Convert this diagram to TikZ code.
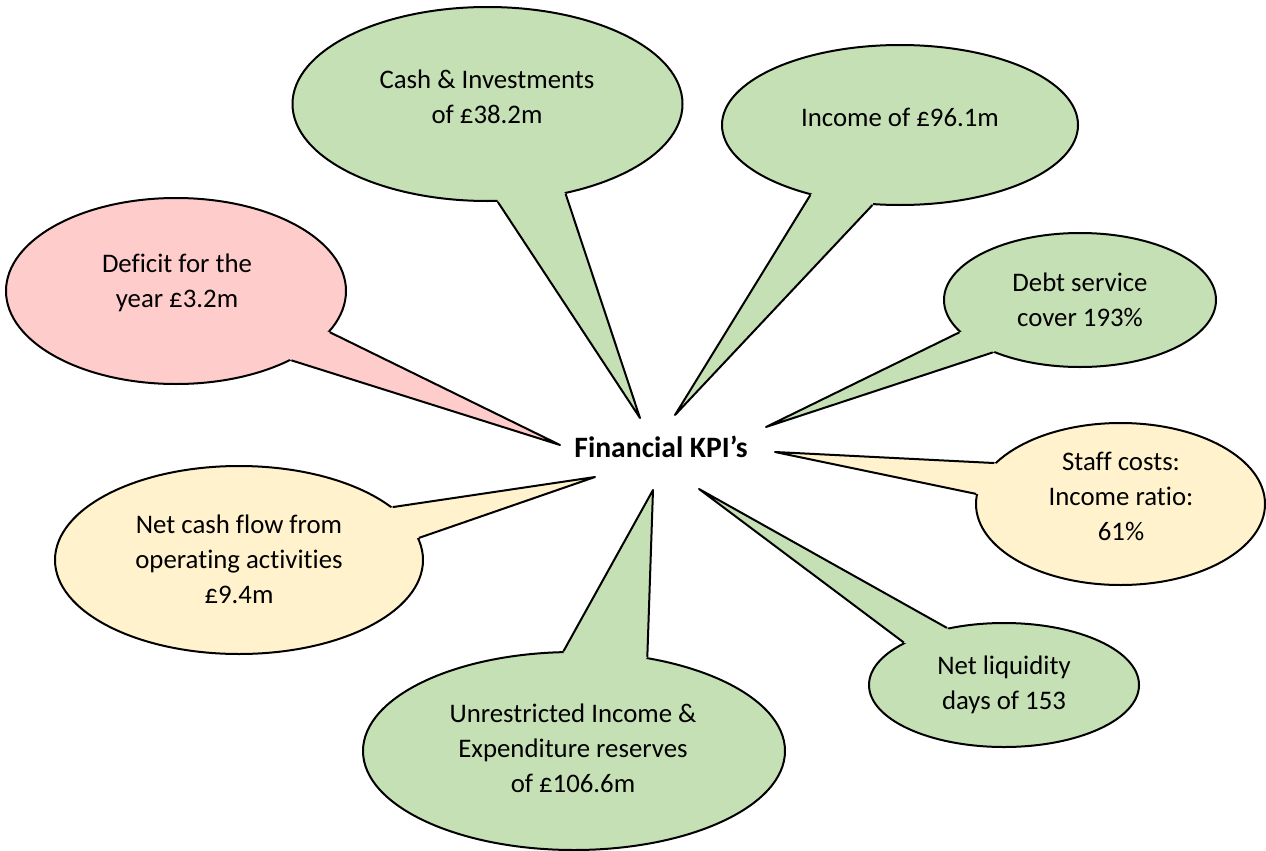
\documentclass[tikz,border=0pt]{standalone}
\usepackage{fontspec}
\setmainfont{Carlito}[Ligatures={NoCommon}]
\usetikzlibrary{shapes.geometric}
\definecolor{kgreen}{HTML}{C5E0B4}
\definecolor{kpink}{HTML}{FFCCCC}
\definecolor{kyellow}{HTML}{FFF2CC}
\tikzset{
  bubble/.style={ellipse, draw=black, line width=2pt, inner sep=0pt},
  btext/.style={align=center, font=\fontsize{26.8}{35}\selectfont, inner sep=0pt},
  side/.style={draw=black, line width=2pt, line join=round},
}
% \kcallout{name}{center}{width}{height}{angleA}{angleB}{tip}{colour}
\newcommand{\kcallout}[8]{%
  \node[bubble, fill=#8, minimum width=#3, minimum height=#4] (#1) at (#2) {};
  \coordinate (#1tip) at (#7);
  \fill[#8] (#1.#5) -- (#1tip) -- (#1.#6) -- (#1.center) -- cycle;
  \draw[side] (#1.#5) -- (#1tip) -- (#1.#6);
}
\begin{document}
\begin{tikzpicture}[x=1pt,y=-1pt]
\useasboundingbox (0,0) rectangle (1266,851);
\kcallout{cash}{487.5,104}{390pt}{194pt}{276.1}{311.8}{640,418}{kgreen}
\kcallout{income}{900,125}{356pt}{160pt}{218.1}{251.4}{675,415}{kgreen}
\kcallout{deficit}{176,291}{340pt}{186pt}{345.4}{329.1}{560,445}{kpink}
\kcallout{debt}{1080,300}{272pt}{134pt}{195.6}{211.4}{766,427}{kgreen}
\kcallout{staff}{1120.5,504}{289pt}{162pt}{162.2}{176.1}{775,452}{kyellow}
\kcallout{netcash}{239,560}{368pt}{188pt}{19.9}{7.3}{595,477}{kyellow}
\kcallout{unres}{574,751}{422pt}{198pt}{96.4}{52.8}{653,490}{kgreen}
\kcallout{liq}{1004,685}{270pt}{124pt}{135}{157.1}{699,489}{kgreen}
\node[btext] (tcash) at (487,97) {Cash \& Investments\\of £38.2m};
\node[btext] (tincome) at (900,117) {Income of £96.1m};
\node[btext] (tdeficit) at (177,283) {Deficit for the\\year £3.2m};
\node[btext] (tdebt) at (1080,300) {Debt service\\cover 193\%};
\node[btext] (tstaff) at (1121,496) {Staff costs:\\Income ratio:\\61\%};
\node[btext] (tnetcash) at (239,559) {Net cash flow from\\operating activities\\£9.4m};
\node[btext] (tunres) at (573,748) {Unrestricted Income \&\\Expenditure reserves\\of £106.6m};
\node[btext] (tliq) at (1004,685) {Net liquidity\\days of 153};
\node[font=\fontsize{29.6}{34}\selectfont\bfseries, inner sep=0pt] (kpi) at (661,447) {Financial KPI’s};
\end{tikzpicture}
\end{document}
